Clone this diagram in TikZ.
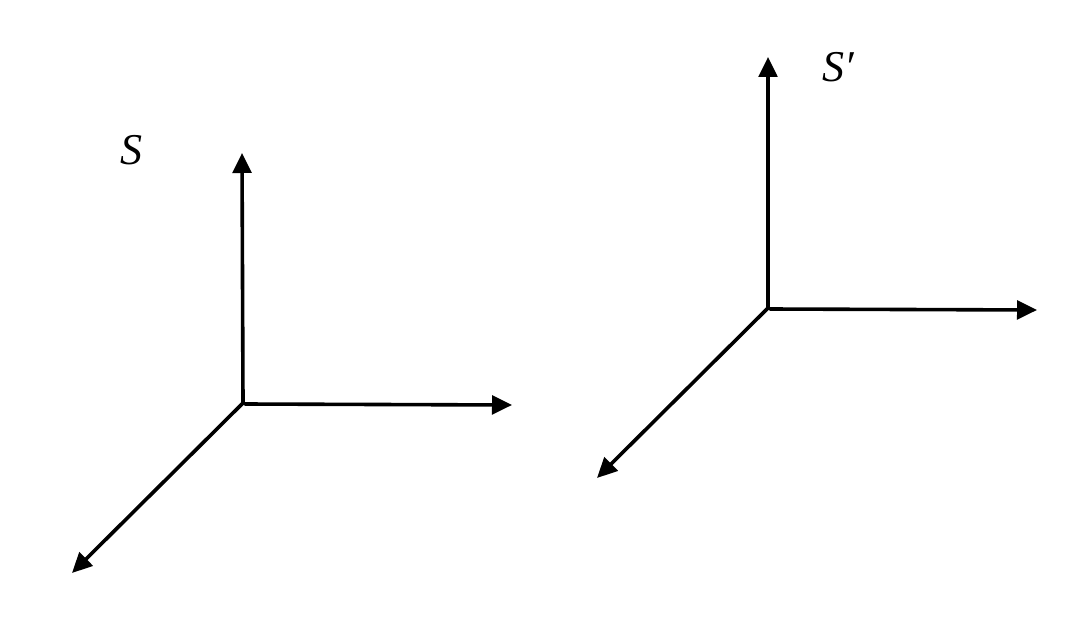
\documentclass[tikz,border=0pt]{standalone}
\usepackage{fontspec}
\setmainfont{Liberation Serif}
\usetikzlibrary{arrows.meta}
\begin{document}
\begin{tikzpicture}[x=0.75pt,y=-0.75pt,
  axis/.style={line width=2.7pt,line cap=round,-{Triangle[length=15pt,width=14pt]}},
  lbl/.style={font=\fontsize{33}{38}\selectfont\itshape}]
\useasboundingbox (0,0) rectangle (1080,620);
% left frame
\coordinate (O1) at (243,403);
\coordinate (O1h) at (245,404);
\coordinate (Y1) at (242,153);
\coordinate (X1) at (512,405);
\coordinate (Z1) at (72,573);
\draw[axis] (O1) -- (Y1);
\draw[axis] (O1h) -- (X1);
\draw[axis] (O1) -- (Z1);
\node[lbl] (S1) at (131,150) {S};
% right frame
\coordinate (O2) at (768,308);
\coordinate (O2h) at (770,309);
\coordinate (Y2) at (768,57);
\coordinate (X2) at (1037,310);
\coordinate (Z2) at (597,478);
\draw[axis] (O2) -- (Y2);
\draw[axis] (O2h) -- (X2);
\draw[axis] (O2) -- (Z2);
\node[lbl] (S2) at (838,67) {S′};
\end{tikzpicture}
\end{document}
